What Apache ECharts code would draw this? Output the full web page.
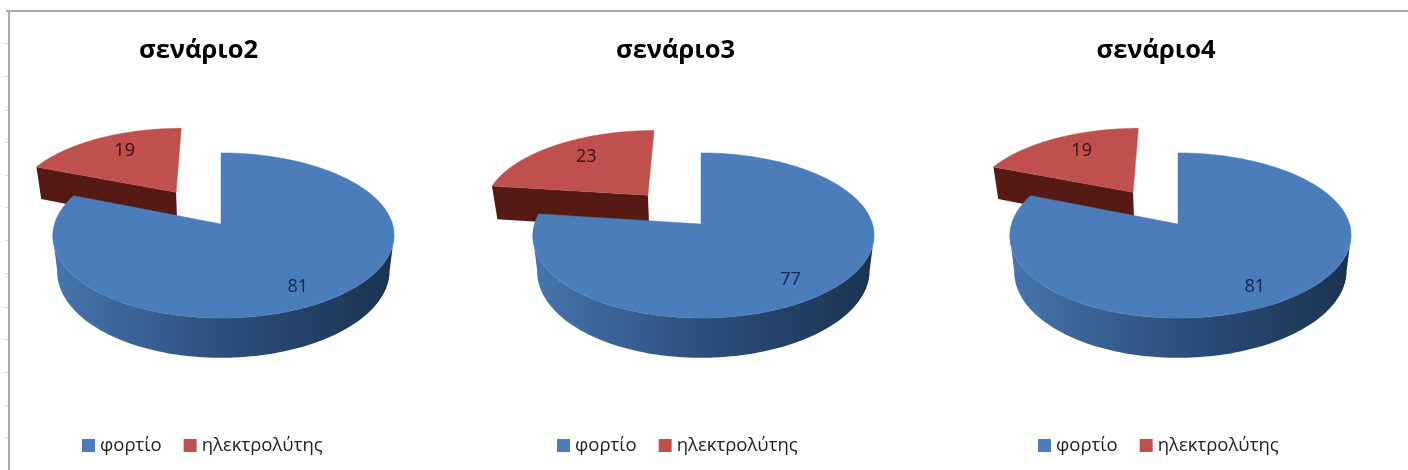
<!DOCTYPE html>
<html>
<head>
<meta charset="utf-8">
<style>html,body{margin:0;padding:0;background:#fff}#chart{width:1408px;height:470px}</style>
<script src="https://cdn.jsdelivr.net/npm/echarts@6/dist/echarts.min.js"></script>
</head>
<body>
<div id="chart"></div>
<script>
// Shares per scenario
const scenarios = ['σενάριο2', 'σενάριο3', 'σενάριο4'];
const categories = ['φορτίο', 'ηλεκτρολύτης'];
const fortio = [81, 77, 81];
const ilektrolytis = [19, 23, 19];
const sheetTicks = [43, 76, 110, 142, 175, 207, 240, 273, 307, 339, 372, 405, 437];

// Layout of each pie: pivot of the disc, title centre, legend left edge
const panels = [
  { cx: 221, cy: 224, titleX: 193.5, legendX: 82 },
  { cx: 701, cy: 224, titleX: 670.5, legendX: 557 },
  { cx: 1178, cy: 224, titleX: 1151, legendX: 1038 }
];

// Disc projection: view tilt with a slight perspective
const RX = 169, RY = 81, PERSP = 0.139;
const EXPLODE = 0.5;
const BASE = { sx: 0.974, sy: 1.05, drop: 35 };
// Rim angles where the disc is widest on screen; the wall hangs between them
const WALL_FROM = 98, WALL_TO = 262;

const FONT = '"Open Sans", "Noto Sans", sans-serif';
const BLUE = '#4b7dba', RED = '#bf504d';
const blueWall = new echarts.graphic.LinearGradient(0, 0, 1, 0, [
  { offset: 0, color: '#4675ae' }, { offset: 0.5, color: '#2c4f7d' }, { offset: 1, color: '#1b3350' }
]);

function project(p, u, v, rimShift) {
  const s = 1 / (1 - PERSP * v);
  return [p.cx + RX * u * s + (rimShift || 0) * u * u, p.cy + RY * v * s];
}
function lower(p, pt) {
  return [p.cx + (pt[0] - p.cx) * BASE.sx, p.cy + (pt[1] - p.cy) * BASE.sy + BASE.drop];
}
const rad = d => d * Math.PI / 180;
const toAngle = val => echarts.number.linearMap(val, [0, 100], [0, 360]);

// One slice of a 3D pie. Angles run clockwise from 12 o'clock.
function sliceRenderer(panelIndex, opts) {
  return function (params, api) {
    const p = panels[panelIndex];
    const share = api.value(0);
    const other = 100 - share;
    const a0 = opts.exploded ? toAngle(other) : 0;
    const a1 = opts.exploded ? 360 : toAngle(share);
    const mid = rad((a0 + a1) / 2);
    const ox = opts.exploded ? EXPLODE * Math.sin(mid) : 0;
    const oy = opts.exploded ? -EXPLODE * Math.cos(mid) : 0;
    const onRim = a => project(p, ox + Math.sin(rad(a)), oy - Math.cos(rad(a)), opts.rimShift);
    const apex = project(p, ox, oy);

    const rim = [];
    for (let a = a0; a <= a1 + 1e-6; a += (a1 - a0) / 160) rim.push(onRim(a));

    const children = [];
    // Curved wall along the part of the rim that faces the viewer
    const w0 = Math.max(a0, WALL_FROM), w1 = Math.min(a1, WALL_TO);
    if (w1 > w0) {
      const top = [];
      for (let a = w0; a <= w1 + 1e-6; a += (w1 - w0) / 120) top.push(onRim(a));
      const wall = top.concat(top.slice().reverse().map(q => lower(p, q)));
      children.push({ type: 'polygon', shape: { points: wall }, style: { fill: opts.wall } });
    }
    // Flat cut face of a pulled-out slice
    if (opts.exploded) {
      const edge = onRim(a0);
      children.push({
        type: 'polygon',
        shape: { points: [apex, edge, lower(p, edge), lower(p, apex)] },
        style: { fill: opts.wall }
      });
    }
    // Top face
    children.push({
      type: 'polygon',
      shape: { points: [apex].concat(rim) },
      style: { fill: opts.color, stroke: opts.color, lineWidth: 0.5 }
    });
    // Value label inside the top face
    const lp = project(p, ox + opts.labelU * Math.sin(mid), oy - opts.labelV * Math.cos(mid));
    children.push({
      type: 'text',
      x: lp[0], y: lp[1],
      style: {
        text: String(share), fill: opts.labelColor, font: '18px ' + FONT,
        align: 'center', verticalAlign: 'middle'
      }
    });
    return { type: 'group', children };
  };
}

const series = [];
panels.forEach((p, i) => {
  series.push({
    type: 'custom', name: categories[1], coordinateSystem: 'none', z: 2,
    silent: true, clip: false, itemStyle: { color: RED },
    data: [[ilektrolytis[i]]],
    renderItem: sliceRenderer(i, {
      exploded: true, color: RED, wall: '#561a14', labelColor: '#3a1010', labelU: 0.66, labelV: 0.75, rimShift: 0
    })
  });
  series.push({
    type: 'custom', name: categories[0], coordinateSystem: 'none', z: 3,
    silent: true, clip: false, itemStyle: { color: BLUE },
    data: [[fortio[i]]],
    renderItem: sliceRenderer(i, {
      exploded: false, color: BLUE, wall: blueWall, labelColor: '#0f2655', labelU: 0.73, labelV: 0.845, rimShift: 2.5
    })
  });
});

// Sheet frame behind the charts
const frame = [
  { type: 'rect', shape: { x: 6, y: 10, width: 1402, height: 2 }, style: { fill: '#ababab' } },
  { type: 'rect', shape: { x: 8, y: 10, width: 2, height: 460 }, style: { fill: '#ababab' } }
].concat(sheetTicks.map(y => ({
  type: 'rect', shape: { x: 5, y, width: 3, height: 1 }, style: { fill: '#dadada' }
})));

const chart = echarts.init(document.getElementById('chart'), null, { renderer: 'canvas' });
chart.setOption({
  backgroundColor: '#ffffff',
  animation: false,
  title: scenarios.map((t, i) => ({
    text: t, left: panels[i].titleX, top: 33, textAlign: 'center',
    textStyle: { fontFamily: FONT, fontSize: 25.5, fontWeight: 'bold', color: '#000' }
  })),
  legend: panels.map(p => ({
    data: categories, left: p.legendX, top: 436, orient: 'horizontal', padding: 0,
    icon: 'rect', itemWidth: 13, itemHeight: 13, itemGap: 22, selectedMode: false,
    textStyle: { fontFamily: FONT, fontSize: 18.5, color: '#222' }
  })),
  graphic: frame,
  series
});
</script>
</body>
</html>
